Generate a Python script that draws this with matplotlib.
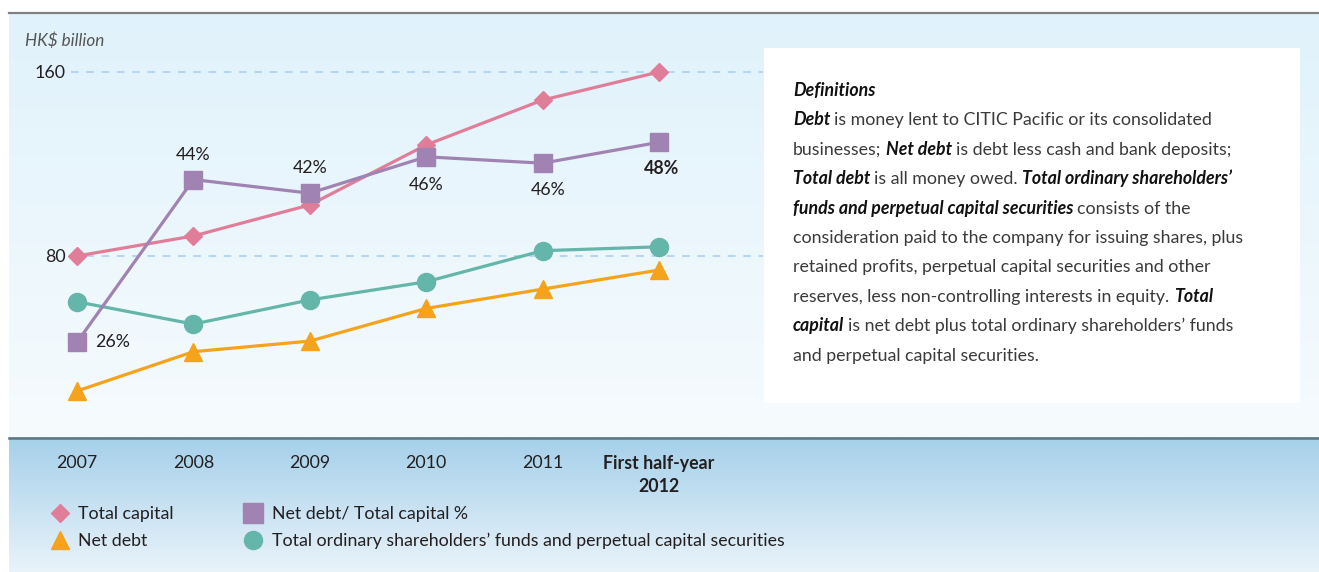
import matplotlib.pyplot as plt
from matplotlib.lines import Line2D
from matplotlib.patches import Rectangle
import numpy as np

# data (HK$ billion)
years = ["2007", "2008", "2009", "2010", "2011", "First half-year\n2012"]
total_capital = [80.0, 88.7, 102.2, 128.3, 147.8, 160.0]
net_debt = [21.3, 38.4, 43.0, 57.2, 65.6, 73.9]
shareholders_funds = [60.1, 50.4, 60.9, 68.8, 82.3, 84.0]
gearing_pct = [26.0, 43.9, 42.4, 46.4, 45.7, 48.0]
gearing_labels = ["26%", "44%", "42%", "46%", "46%", "48%"]
y_ticks = [80, 160]

legend_labels = ["Total capital", "Net debt", "Net debt/ Total capital %",
                 "Total ordinary shareholders\u2019 funds and perpetual capital securities"]

definitions = [
    [("Definitions", "b")],
    [("Debt", "b"), (" ", "b"), ("is money lent to CITIC Pacific or its consolidated", "r")],
    [("businesses;", "r"), (" ", "r"), ("Net debt", "b"), (" ", "b"), ("is debt less cash and bank deposits;", "r")],
    [("Total debt", "b"), (" ", "b"), ("is all money owed.", "r"), (" ", "r"), ("Total ordinary shareholders\u2019", "b")],
    [("funds and perpetual capital securities", "b"), (" ", "b"), ("consists of the", "r")],
    [("consideration paid to the company for issuing shares, plus", "r")],
    [("retained profits, perpetual capital securities and other", "r")],
    [("reserves, less non-controlling interests in equity.", "r"), (" ", "r"), ("Total", "b")],
    [("capital", "b"), (" ", "b"), ("is net debt plus total ordinary shareholders\u2019 funds", "r")],
    [("and perpetual capital securities.", "r")],
]

PINK = "#e07e99"
PURPLE = "#a083b2"
TEAL = "#64b5aa"
ORANGE = "#f6a31c"
FONT = "Lato"
W, H = 1319, 572
FS = 12.8
DEF_FS = 12.8

plt.rcParams["font.family"] = [FONT, "DejaVu Sans"]

fig = plt.figure(figsize=(W / 100, H / 100), dpi=100)

# background layer in pixel coordinates
bg = fig.add_axes([0, 0, 1, 1], zorder=0)
bg.set_xlim(0, W)
bg.set_ylim(H, 0)
bg.axis("off")

grad = np.linspace(0, 1, 200)[:, None]
c1 = np.array([224, 242, 251]) / 255
c2 = np.array([246, 251, 254]) / 255
img = c1 + (c2 - c1) * grad[:, :, None]
bg.imshow(img, extent=(9, W, 437, 13), aspect="auto", zorder=0)

c3 = np.array([165, 208, 234]) / 255
c4 = np.array([233, 243, 250]) / 255
img2 = c3 + (c4 - c3) * grad[:, :, None]
bg.imshow(img2, extent=(9, W, H, 437), aspect="auto", zorder=0)

bg.plot([9, W], [13, 13], color="#808080", lw=1.6, zorder=2)
bg.plot([9, W], [437.5, 437.5], color="#5e7482", lw=1.8, zorder=2)
bg.add_patch(Rectangle((764, 48), 536, 355, facecolor="white", edgecolor="none", zorder=1))
bg.text(25, 41, "HK$ billion", style="italic", fontsize=12.3, color="#555555", va="center")

# definitions text box
renderer = fig.canvas.get_renderer()
def text_width(s, weight, style):
    t = bg.text(0, 0, s, fontsize=DEF_FS, fontweight=weight, style=style)
    w = t.get_window_extent(renderer).width
    t.remove()
    return w

for i, line in enumerate(definitions):
    x = 793
    y = 96 + i * 29.4
    for s, kind in line:
        weight, style, color = ("bold", "italic", "#111111") if kind == "b" else ("normal", "normal", "#3a3a3a")
        if s == " ":
            x += text_width("a a", weight, style) - text_width("aa", weight, style)
            continue
        bg.text(x, y, s, fontsize=DEF_FS, fontweight=weight, style=style,
                color=color, va="baseline", ha="left", zorder=3)
        x += text_width(s, weight, style)

# main chart axes
x = np.arange(len(years))
ax = fig.add_axes([9 / W, (H - 437) / H, (763 - 9) / W, (437 - 13) / H], zorder=2)
ax.patch.set_visible(False)
for s in ax.spines.values():
    s.set_visible(False)
ax.set_xlim((9 - 77) / 116.4, (763 - 77) / 116.4)
ax.set_ylim((440 - 437) / 2.3, (440 - 13) / 2.3)

ax.hlines(y_ticks, -0.05, ax.get_xlim()[1], colors="#a8ccee", lw=1.1,
          linestyles=(0, (5, 5)), zorder=1)
ax.set_yticks(y_ticks)
ax.tick_params(axis="y", length=0, pad=-41, labelsize=FS, labelcolor="#231f20")
ax.set_xticks(x)
ax.set_xticklabels(years, fontsize=FS, color="#231f20", linespacing=1.4)
ax.tick_params(axis="x", length=0, pad=13)
ax.get_xticklabels()[-1].set_fontweight("bold")

ax.plot(x, total_capital, color=PINK, lw=2.3, marker="D", ms=9.5, zorder=3)
ax.plot(x, shareholders_funds, color=TEAL, lw=2.3, marker="o", ms=13, zorder=3)
ax.plot(x, net_debt, color=ORANGE, lw=2.3, marker="^", ms=13.5, zorder=3)

# gearing on its own scale, overlaid
ax2 = ax.twinx()
ax2.set_zorder(3)
ax2.patch.set_visible(False)
for s in ax2.spines.values():
    s.set_visible(False)
ax2.set_yticks([])
ax2.set_ylim(15.58, 62.22)
ax2.plot(x, gearing_pct, color=PURPLE, lw=2.3, marker="s", ms=13.5, zorder=3)

label_offsets = [(13, 0), (0, 18), (0, 18), (0, -20), (4, -19), (2, -19)]
label_align = ["left", "center", "center", "center", "center", "center"]
for i, (lab, off, ha) in enumerate(zip(gearing_labels, label_offsets, label_align)):
    ax2.annotate(lab, (x[i], gearing_pct[i]), xytext=off, textcoords="offset points",
                 ha=ha, va="center", fontsize=FS, color="#231f20",
                 fontweight="bold" if i == len(x) - 1 else "normal")

handles = [
    Line2D([], [], color=PINK, marker="D", ms=9.5, lw=0),
    Line2D([], [], color=ORANGE, marker="^", ms=13.5, lw=0),
    Line2D([], [], color=PURPLE, marker="s", ms=14, lw=0),
    Line2D([], [], color=TEAL, marker="o", ms=13, lw=0),
]
fig.legend(handles, legend_labels, ncol=2, loc="upper left",
           bbox_to_anchor=(41 / W, (H - 497) / H), frameon=False, fontsize=FS,
           handlelength=1.1, handletextpad=0.5, columnspacing=3.9,
           labelspacing=0.62, labelcolor="#231f20", borderpad=0)

fig.savefig("out.png", dpi=100)
